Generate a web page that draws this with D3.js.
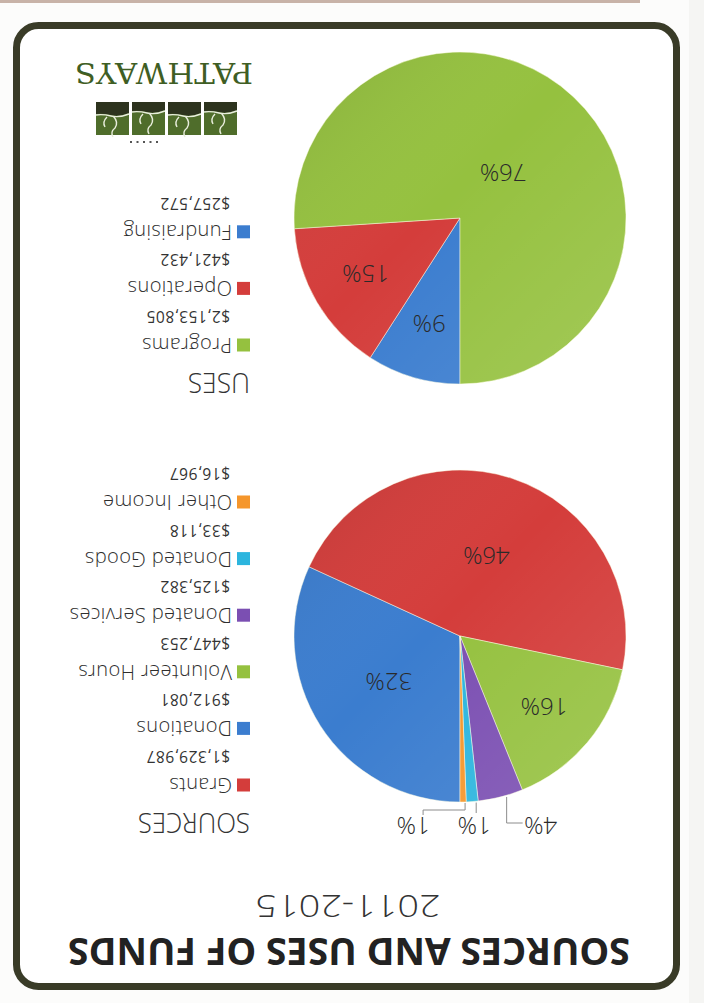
<!DOCTYPE html>
<html>
<head>
<meta charset="utf-8">
<script src="https://cdn.jsdelivr.net/npm/d3@7"></script>
<style>
  body { margin: 0; background: #ffffff; }
  svg { display: block; }
</style>
</head>
<body>
<svg id="chart" width="704" height="1003"></svg>
<script>
// Sources of funds (legend order)
var sourceNames  = ['Grants', 'Donations', 'Volunteer Hours', 'Donated Services', 'Donated Goods', 'Other Income'];
var sourceValues = [1329987, 912081, 447253, 125382, 33118, 16967];
var sourceColors = ['#d43d3b', '#3b7dcf', '#95c13f', '#7b4fb2', '#2cb5de', '#f5962b'];
// order the slices are laid out in, clockwise from 12 o'clock
var sourceSliceOrder = ['Donations', 'Grants', 'Volunteer Hours', 'Donated Services', 'Donated Goods', 'Other Income'];

// Uses of funds
var useNames  = ['Programs', 'Operations', 'Fundraising'];
var useValues = [2153805, 421432, 257572];
var useColors = ['#95c13f', '#d43d3b', '#3b7dcf'];
var useSliceOrder = ['Fundraising', 'Operations', 'Programs'];

var titleText = 'SOURCES AND USES OF FUNDS';
var periodText = '2011-2015';

var W = 704, H = 1003;
var svg = d3.select('#chart');
var money = d3.format('$,');
var FONT = "'Open Sans', 'DejaVu Sans', sans-serif";

var defs = svg.append('defs');
var shade = defs.append('linearGradient')
    .attr('id', 'shade')
    .attr('x1', '0').attr('y1', '0').attr('x2', '1').attr('y2', '1');
shade.append('stop').attr('offset', '0').attr('stop-color', '#ffffff').attr('stop-opacity', 0.13);
shade.append('stop').attr('offset', '0.55').attr('stop-color', '#ffffff').attr('stop-opacity', 0);
shade.append('stop').attr('offset', '1').attr('stop-color', '#000000').attr('stop-opacity', 0.1);

// background outside the card
svg.append('rect').attr('width', W).attr('height', H).attr('fill', '#fcfcfb');

//The whole sheet is shown upside down, so draw it upright and spin it
var page = svg.append('g').attr('transform', 'rotate(180,' + (W / 2) + ',' + (H / 2) + ')');

page.append('rect').attr('x', 64).attr('y', 1000).attr('width', 640).attr('height', 3).attr('fill', '#c8b3a8');
page.append('rect').attr('x', 0).attr('y', 0).attr('width', 15).attr('height', H).attr('fill', '#f5f5f3');

// card frame
page.append('rect')
    .attr('x', 27.5).attr('y', 16.5)
    .attr('width', 660).attr('height', 961)
    .attr('rx', 22).attr('ry', 22)
    .attr('fill', '#ffffff')
    .attr('stroke', '#393b27')
    .attr('stroke-width', 7);

// title
page.append('text')
    .attr('x', 355).attr('y', 65)
    .attr('text-anchor', 'middle')
    .attr('textLength', 562).attr('lengthAdjust', 'spacingAndGlyphs')
    .style('font-family', FONT).style('font-weight', 700).style('font-size', '37px')
    .attr('fill', '#222222')
    .text(titleText);

page.append('text')
    .attr('x', 356).attr('y', 108)
    .attr('text-anchor', 'middle')
    .attr('textLength', 185).attr('lengthAdjust', 'spacingAndGlyphs')
    .style('font-family', FONT).style('font-weight', 300).style('font-size', '32px')
    .attr('fill', '#333333')
    .text(periodText);

function drawPie(opts) {
    var total = d3.sum(opts.values);
    var colorOf = d3.scaleOrdinal().domain(opts.names).range(opts.colors);
    var valueOf = {};
    opts.names.forEach(function(n, i) { valueOf[n] = opts.values[i]; });

    var pie = d3.pie().sort(null).value(function(d) { return valueOf[d]; });
    var arcs = pie(opts.order);
    var arc = d3.arc().innerRadius(0).outerRadius(opts.r);

    var g = page.append('g').attr('transform', 'translate(' + opts.cx + ',' + opts.cy + ')');

    g.selectAll('.slice')
        .data(arcs)
        .enter().append('path')
        .attr('class', 'slice')
        .attr('d', arc)
        .attr('fill', function(d) { return colorOf(d.data); })
        .attr('stroke', 'rgba(255,255,230,0.6)')
        .attr('stroke-width', 0.8);

    g.append('circle').attr('r', opts.r).attr('fill', 'url(#shade)');

    var pct = function(d) { return Math.round(valueOf[d.data] / total * 100) + '%'; };
    var inside = arcs.filter(function(d) { return valueOf[d.data] / total >= 0.05; });
    var outside = arcs.filter(function(d) { return valueOf[d.data] / total < 0.05; });

    g.selectAll('.pct')
        .data(inside)
        .enter().append('text')
        .attr('class', 'pct')
        .attr('transform', function(d) {
            var f = valueOf[d.data] / total;
            var lr = opts.r * (f > 0.5 ? 0.38 : (f > 0.25 ? 0.51 : 0.66));
            var c = d3.arc().innerRadius(lr).outerRadius(lr).centroid(d);
            return 'translate(' + c[0] + ',' + c[1] + ')';
        })
        .attr('text-anchor', 'middle')
        .attr('dy', '0.35em')
        .style('font-family', FONT).style('font-weight', 300).style('font-size', '24px')
        .attr('fill', '#2a2a2a')
        .text(pct);

    // small slices get a label above the pie with a leader line
    var labelY = -opts.r - 23;
    outside.forEach(function(d, i) {
        var mid = (d.startAngle + d.endAngle) / 2;
        var px = opts.r * Math.sin(mid), py = -opts.r * Math.cos(mid);
        var dx = opts.outsideShift[i];
        var lx = px + dx;
        var pts;
        if (Math.abs(dx) < 10) {
            pts = [[px - 4, py - 1], [px - 4, labelY + 12]];
        } else if (dx < 0) {
            pts = [[px - 6, py], [px - 6, labelY + 2], [lx + 18, labelY + 2]];
        } else {
            pts = [[px - 2, py - 1], [px - 2, labelY + 15], [lx - 10, labelY + 15], [lx - 10, labelY + 10]];
        }
        g.append('path')
            .attr('d', d3.line()(pts))
            .attr('fill', 'none')
            .attr('stroke', '#8c8c8c')
            .attr('stroke-width', 1);
        g.append('text')
            .attr('x', lx).attr('y', labelY)
            .attr('dy', '0.35em')
            .attr('text-anchor', 'middle')
            .style('font-family', FONT).style('font-weight', 300).style('font-size', '24px')
            .attr('fill', '#2a2a2a')
            .text(pct(d));
    });

    // legend
    var lg = page.append('g');
    lg.append('text')
        .attr('x', 454).attr('y', opts.headerY)
        .attr('textLength', opts.headerLen).attr('lengthAdjust', 'spacingAndGlyphs')
        .style('font-family', FONT).style('font-weight', 300).style('font-size', '28px')
        .attr('fill', '#333333')
        .text(opts.header);

    var rows = lg.selectAll('.row')
        .data(opts.names)
        .enter().append('g')
        .attr('class', 'row')
        .attr('transform', function(d, i) { return 'translate(454,' + (opts.headerY + 28 + i * 56.6) + ')'; });
    rows.append('rect')
        .attr('x', 0).attr('y', -6.5)
        .attr('width', 13).attr('height', 13)
        .attr('fill', function(d) { return colorOf(d); });
    rows.append('text')
        .attr('x', 18).attr('y', 0).attr('dy', '0.35em')
        .style('font-family', FONT).style('font-weight', 300).style('font-size', '20px')
        .style('letter-spacing', '0.4px')
        .attr('fill', '#2e2e2e')
        .text(function(d) { return d; });
    rows.append('text')
        .attr('x', 20).attr('y', 28.5).attr('dy', '0.35em')
        .style('font-family', FONT).style('font-weight', 400).style('font-size', '15.5px')
        .style('letter-spacing', '0.5px')
        .attr('fill', '#333333')
        .text(function(d) { return money(valueOf[d]); });
}

drawPie({
    names: sourceNames, values: sourceValues, colors: sourceColors, order: sourceSliceOrder,
    cx: 244, cy: 367, r: 166,
    header: 'SOURCES', headerY: 190, headerLen: 112,
    outsideShift: [-40, -2, 50]
});

drawPie({
    names: useNames, values: useValues, colors: useColors, order: useSliceOrder,
    cx: 244, cy: 785, r: 166,
    header: 'USES', headerY: 630, headerLen: 62,
    outsideShift: []
});

// Pathways logo
var logo = page.append('g');
var tiles = [467, 503, 539, 575];
logo.selectAll('.tile')
    .data(tiles)
    .enter().append('rect')
    .attr('x', function(d) { return d; }).attr('y', 868)
    .attr('width', 33).attr('height', 33)
    .attr('fill', '#4f6d2b');
logo.selectAll('.band')
    .data(tiles)
    .enter().append('path')
    .attr('d', function(d, i) {
        var top = 891 - (i % 2 ? 3 : 0);
        return 'M' + d + ',' + (top + 2) + ' Q' + (d + 10) + ',' + (top - 2) + ' ' + (d + 18) + ',' + top +
            ' T' + (d + 33) + ',' + (top + 1) + ' L' + (d + 33) + ',901 L' + d + ',901 Z';
    })
    .attr('fill', '#2d331e');
logo.selectAll('.vine')
    .data(tiles)
    .enter().append('path')
    .attr('d', function(d, i) {
        var top = 891 - (i % 2 ? 3 : 0);
        return 'M' + d + ',' + (top + 1) + ' Q' + (d + 10) + ',' + (top - 3) + ' ' + (d + 18) + ',' + (top - 1) +
            ' T' + (d + 33) + ',' + top +
            ' M' + (d + 16) + ',' + (top - 1) + ' q-6,-6 -2,-12 q5,-4 2,-9 M' + (d + 22) + ',' + (top - 2) + ' q5,-5 2,-10';
    })
    .attr('fill', 'none')
    .attr('stroke', '#e8eddc')
    .attr('stroke-width', 1.4);
logo.selectAll('.dot')
    .data([0, 1, 2, 3, 4])
    .enter().append('rect')
    .attr('x', function(d) { return 546 + d * 6.5; }).attr('y', 860)
    .attr('width', 2).attr('height', 2)
    .attr('fill', '#555555');
logo.append('text')
    .attr('x', 540).attr('y', 940)
    .attr('text-anchor', 'middle')
    .attr('textLength', 178).attr('lengthAdjust', 'spacingAndGlyphs')
    .style('font-family', "'DejaVu Serif', 'Liberation Serif', serif")
    .style('font-size', '27px')
    .attr('fill', '#3f5e24')
    .text('PATHWAYS');
</script>
</body>
</html>
